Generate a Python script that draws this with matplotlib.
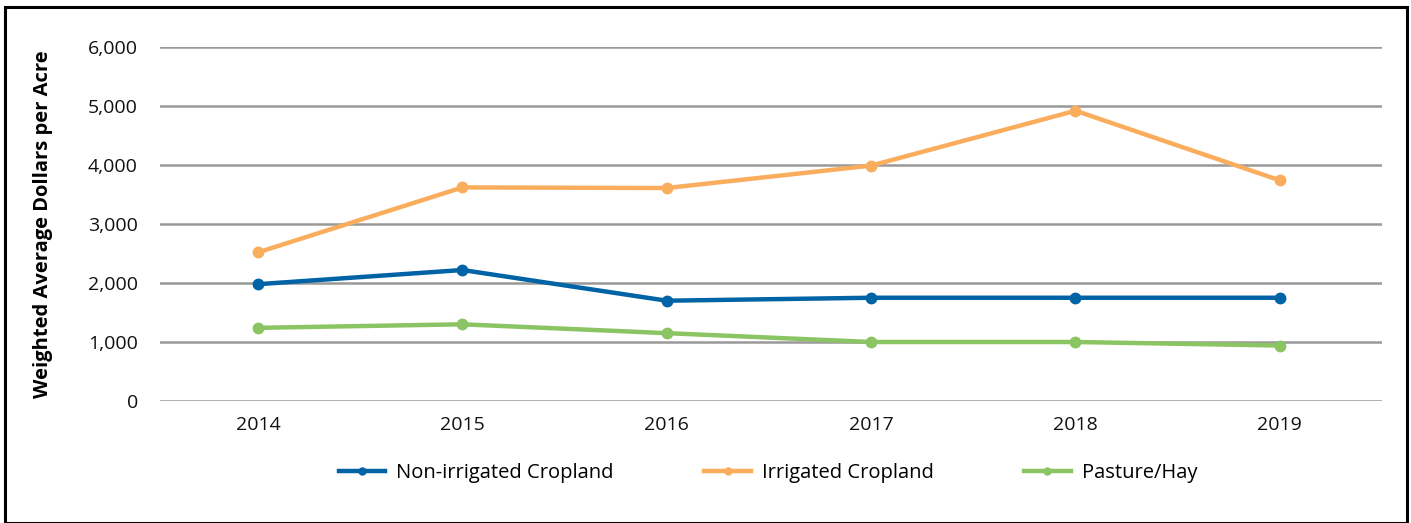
import matplotlib
matplotlib.use("Agg")
import matplotlib.pyplot as plt
from matplotlib.patches import Rectangle

years = [2014, 2015, 2016, 2017, 2018, 2019]
non_irrigated = [1980, 2220, 1700, 1750, 1750, 1750]
irrigated = [2520, 3620, 3610, 3990, 4920, 3740]
pasture = [1240, 1300, 1150, 1000, 1000, 940]
yticks = [0, 1000, 2000, 3000, 4000, 5000, 6000]

plt.rcParams['font.family'] = ['Open Sans', 'DejaVu Sans']

W, H = 1411, 523
fig = plt.figure(figsize=(W/100, H/100), dpi=100)
ax = fig.add_axes([160/W, 1-401/H, (1382-160)/W, (401-47)/H])

series = [("Non-irrigated Cropland", non_irrigated, "#0063a6"),
          ("Irrigated Cropland", irrigated, "#fbad5e"),
          ("Pasture/Hay", pasture, "#8bc463")]
for name, vals, c in series:
    ax.plot(years, vals, color=c, lw=3.2, marker='o', ms=7.5, label=name,
            solid_joinstyle='miter')

ax.set_xlim(2013.52, 2019.5)
ax.set_ylim(0, 6000)
ax.set_yticks(yticks)
ax.set_yticklabels([f"{v:,}" for v in yticks])
ax.set_xticks(years)
ax.set_xticklabels([str(y) for y in years])
ax.tick_params(length=0, labelsize=14, colors='#111111')
ax.tick_params(axis='y', pad=16)
ax.tick_params(axis='x', pad=11)
ax.grid(axis='y', color='#999999', lw=1.8)
ax.set_axisbelow(True)
for s in ax.spines.values():
    s.set_visible(False)
ax.set_ylabel("Weighted Average Dollars per Acre", fontsize=14.5, fontweight='bold')
ax.yaxis.set_label_coords(-(160-53)/(1382-160), 0.5)

leg = fig.legend(*ax.get_legend_handles_labels(), loc='center',
                 bbox_to_anchor=(768/W, 1-473/H), ncol=3,
                 frameon=False, fontsize=14.5, columnspacing=4.5, handlelength=2.3,
                 handletextpad=0.55)
for h in leg.legend_handles:
    h.set_markersize(5)

fig.patches.append(Rectangle((5/W, 0), (1407-5)/W, 1-7/H, transform=fig.transFigure,
                             fill=False, edgecolor='black', lw=2.2))
fig.savefig("out.png", dpi=100)
